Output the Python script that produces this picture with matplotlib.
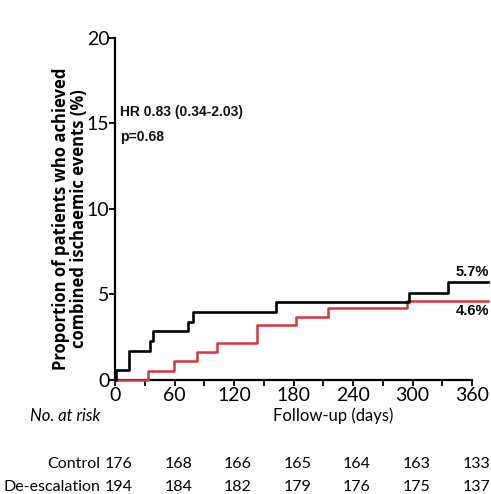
import matplotlib
matplotlib.use("Agg")
import matplotlib.pyplot as plt
from matplotlib.ticker import MultipleLocator

# cumulative incidence curves (step after each event)
ctrl_days = [0, 1.5, 14, 35, 38.6, 74, 79, 162, 296, 336, 376]
ctrl_pct = [0, 0.57, 1.70, 2.27, 2.84, 3.41, 3.98, 4.55, 5.11, 5.7, 5.7]
deesc_days = [0, 33.5, 59, 82.5, 102.5, 143.5, 182.5, 215, 294, 376]
deesc_pct = [0, 0.55, 1.1, 1.65, 2.15, 3.2, 3.7, 4.2, 4.6, 4.6]

risk_days = [0, 60, 120, 180, 240, 300, 360]
risk_control = [176, 168, 166, 165, 164, 163, 133]
risk_deesc = [194, 184, 182, 179, 176, 175, 137]

W, H = 491, 494
fig = plt.figure(figsize=(W / 100, H / 100), dpi=100)
ax = fig.add_axes([115 / W, 114 / H, 373 / W, 342.3 / H])

def px(x, y):
    # pixel coords (from top-left) -> figure fraction
    return x / W, 1 - y / H

base = "Lato"
narrow = "Liberation Sans"

ax.step(deesc_days, deesc_pct, where="post", color="#d8353f", lw=1.8, clip_on=False, zorder=3)
ax.step(ctrl_days, ctrl_pct, where="post", color="black", lw=1.9, clip_on=False, zorder=4)

ax.set_xlim(0, 376)
ax.set_ylim(0, 20)
ax.spines["top"].set_visible(False)
ax.spines["right"].set_visible(False)
ax.spines["bottom"].set_bounds(0, 360)
for s in ("left", "bottom"):
    ax.spines[s].set_linewidth(1.6)

ax.set_xticks(risk_days)
ax.xaxis.set_minor_locator(MultipleLocator(30))
ax.set_yticks([0, 5, 10, 15, 20])
ax.tick_params(which="both", direction="out", width=1.3, length=4, labelsize=14, pad=1)
ax.tick_params(axis="y", pad=0)
for lab in ax.get_xticklabels() + ax.get_yticklabels():
    lab.set_fontfamily(base)

# y-axis title
fig.text(*px(70, 219), "Proportion of patients who achieved\ncombined ischaemic events (%)",
         rotation=90, ha="center", va="center", ma="center", fontsize=12,
         fontweight="bold", family="Open Sans", linespacing=0.95)

# hazard ratio annotation
fig.text(*px(120, 112), "HR 0.83 (0.34-2.03)", ha="left", va="center", fontsize=10,
         family=narrow, fontweight="semibold", color="#111111")
fig.text(*px(120, 137), "p=0.68", ha="left", va="center", fontsize=10,
         family=narrow, fontweight="semibold", color="#111111")

# end-of-curve labels
fig.text(*px(489, 272), "5.7%", ha="right", va="center", fontsize=10.5,
         fontweight="bold", family=narrow)
fig.text(*px(489, 311), "4.6%", ha="right", va="center", fontsize=10.5,
         fontweight="bold", family=narrow)

# axis title and risk table
fig.text(*px(100, 416), "No. at risk", ha="right", va="center", fontsize=12,
         style="italic", family=base)
fig.text(*px(333, 416), "Follow-up (days)", ha="center", va="center", fontsize=12,
         family=base)

rows = [("Control", risk_control, 464), ("De-escalation", risk_deesc, 487)]
for name, counts, y in rows:
    fig.text(*px(100, y), name, ha="right", va="center", fontsize=11.5, family=base)
    for d, n in zip(risk_days, counts):
        xp = 115 + d * (373 / 376) + 4
        fig.text(*px(xp, y), str(n), ha="center", va="center", fontsize=11.5, family=base)

fig.savefig("out.png", dpi=100)
